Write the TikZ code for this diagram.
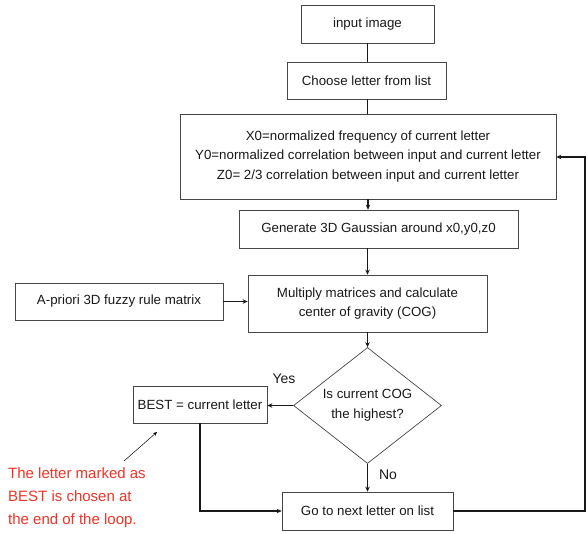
\documentclass[tikz,border=0pt]{standalone}
\usepackage{fontspec}
\setmainfont{Liberation Sans}
\usetikzlibrary{shapes.geometric,arrows.meta}
\definecolor{boxline}{RGB}{70,70,70}
\definecolor{txt}{RGB}{25,25,25}
\definecolor{note}{RGB}{238,52,38}
\begin{document}
\begin{tikzpicture}[x=1pt,y=-1pt,
  box/.style={draw=boxline,line width=0.7pt,inner sep=0pt,align=center,text=txt,
    font=\fontsize{13.3}{19.5}\selectfont},
  dec/.style={draw=boxline,line width=0.7pt,shape=diamond,aspect=1.28,inner sep=0pt,
    minimum width=148pt,minimum height=116pt,align=center,text=txt,
    font=\fontsize{13.3}{20}\selectfont},
  conn/.style={draw=black!90,line width=1.3pt},
  arr/.style={conn,-{Stealth[length=5pt,width=4.5pt]}},
  lbl/.style={text=txt,font=\fontsize{14}{16}\selectfont,inner sep=0pt}]
\useasboundingbox (0,0) rectangle (588,533);

\node[box,minimum width=133pt,minimum height=38pt] (in) at (367.5,24) {input image};
\node[box,minimum width=159pt,minimum height=37pt] (choose) at (366.5,80.5) {Choose letter from list};
\node[box,minimum width=376pt,minimum height=85pt] (big) at (368,156.5)
  {X0=normalized frequency of current letter\\Y0=normalized correlation between input and current letter\\Z0= 2/3 correlation between input and current letter};
\node[box,minimum width=279pt,minimum height=38pt] (gen) at (378.5,229) {Generate 3D Gaussian around x0,y0,z0};
\node[box,minimum width=239pt,minimum height=57pt] (mult) at (367.5,303.5) {Multiply matrices and calculate\\center of gravity (COG)};
\node[box,minimum width=208pt,minimum height=37pt] (apriori) at (119,301.5) {A-priori 3D fuzzy rule matrix};
\node[dec] (dia) at (367.5,405.5) {Is current COG\\the highest?};
\node[box,minimum width=134pt,minimum height=37pt] (best) at (200,404.5) {BEST = current letter};
\node[box,minimum width=171pt,minimum height=38pt] (go) at (367.5,511) {Go to next letter on list};

\node[lbl] (yes) at (284,379) {Yes};
\node[lbl] (no) at (388,475) {No};

\node[anchor=base west,inner sep=0pt,align=left,text=note,
  font=\fontsize{15}{23}\selectfont] (notetext) at (8,524.5)
  {The letter marked as\\BEST is chosen at\\the end of the loop.};

\coordinate (annS) at (124,461);
\coordinate (annE) at (157,432);
\coordinate (loopB) at (585,511);
\coordinate (loopT) at (585,157);

\draw[conn] (in.south) -- (in.south |- choose.north);
\draw[conn] (in.south |- choose.south) -- (in.south |- big.north);
\draw[arr] (big.south) -- (big.south |- gen.north);
\draw[arr] (mult.north |- gen.south) -- (mult.north);
\draw[arr] (apriori.east) -- (apriori.east -| mult.west);
\draw[arr] (mult.south) -- (dia.north);
\draw[arr] (dia.west) -- (dia.west -| best.east);
\draw[arr] (dia.south) -- (go.north);
\draw[arr] (best.south) -- (best.south |- go.west) -- (go.west);
\draw[arr] (go.east) -- (loopB) -- (loopT) -- (loopT -| big.east);
\draw[line width=0.5pt,-{Stealth[length=4pt,width=3.5pt]}] (annS) -- (annE);
\end{tikzpicture}
\end{document}
